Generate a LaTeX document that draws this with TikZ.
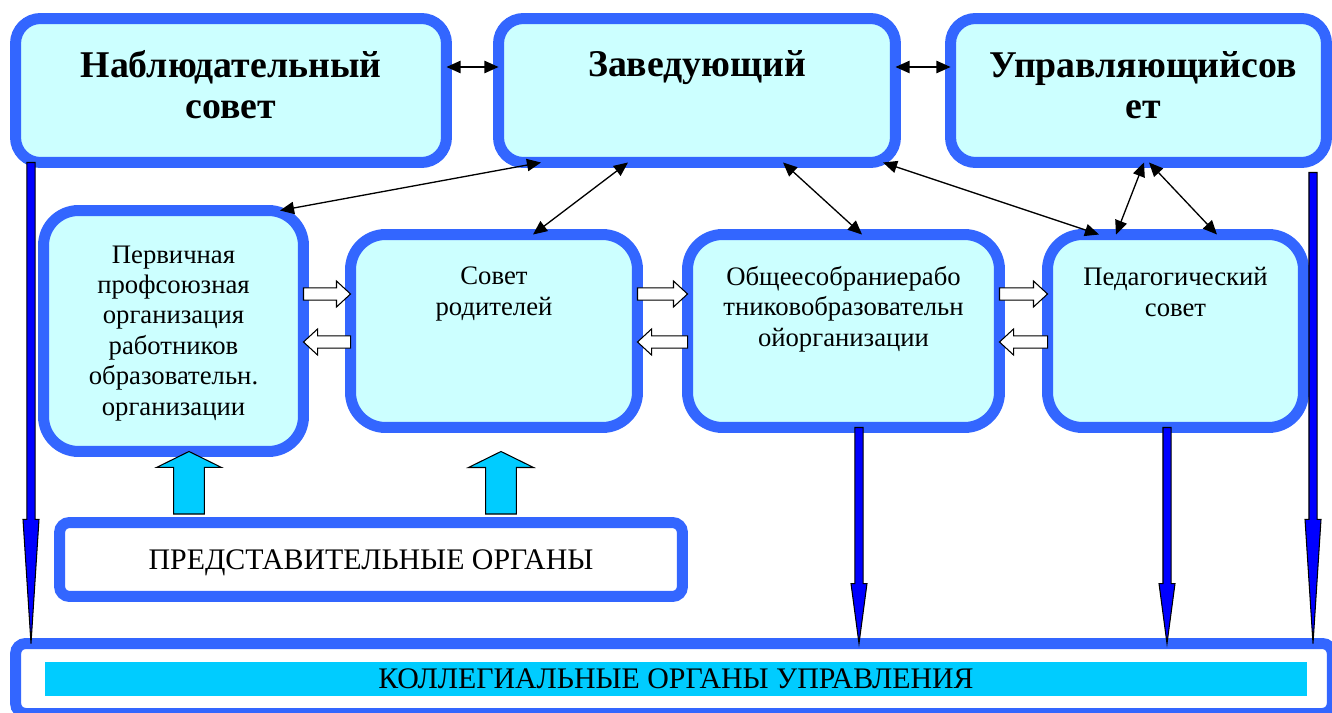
\documentclass[tikz,border=0pt]{standalone}
\usepackage{fontspec}
\setmainfont{Liberation Serif}
\usetikzlibrary{arrows.meta,calc}
\definecolor{boxblue}{RGB}{51,102,255}
\definecolor{boxfill}{RGB}{204,255,255}
\definecolor{barcyan}{RGB}{0,204,255}
\definecolor{arrowblue}{RGB}{0,0,255}
\tikzset{
  orgbox/.style={draw=boxblue, fill=boxfill, line width=6.26pt, rounded corners=0.7cm, outer sep=0pt, inner sep=0pt},
  topbox/.style={orgbox, rounded corners=0.5cm, minimum height=2.88cm},
  midbox/.style={orgbox, minimum height=3.86cm},
  framebox/.style={draw=boxblue, fill=white, line width=6.26pt, rounded corners=0.2cm, outer sep=0pt, inner sep=0pt},
  toptext/.style={font=\fontsize{21.5}{23.3}\selectfont\bfseries, align=center, anchor=base, inner sep=0pt},
  midtext/.style={font=\fontsize{15.2}{17.3}\selectfont, align=center, anchor=base, inner sep=0pt},
  captext/.style={font=\fontsize{17}{20}\selectfont, text height=11.2pt, text depth=0pt},
  link/.style={<->, >={Triangle[length=8pt,width=7pt]}, line width=0.75pt},
  vblock/.style n args={3}{to path={let \p1=(\tikztostart), \p2=(\tikztotarget), \n1={sign(\y2-\y1)} in
    ({\x2-#1},\y1) -- ({\x2-#1},{\y2-(\n1)*#3}) -- ({\x2-#2},{\y2-(\n1)*#3}) -- (\x2,\y2)
    -- ({\x2+#2},{\y2-(\n1)*#3}) -- ({\x2+#1},{\y2-(\n1)*#3}) -- ({\x2+#1},\y1) -- cycle}},
  bluedown/.style={vblock={2.3pt}{4.55pt}{#1}, draw=black, fill=arrowblue, line width=0.6pt},
  cyanup/.style={vblock={8.8pt}{18.5pt}{9.1pt}, draw=black, fill=barcyan, line width=0.6pt},
  whitearrow/.style={draw=black, fill=white, line width=0.6pt,
    to path={let \p1=(\tikztostart), \p2=(\tikztotarget), \n1={sign(\x2-\x1)} in
    (\x1,{\y1-3.5pt}) -- ({\x2-(\n1)*8pt},{\y1-3.5pt}) -- ({\x2-(\n1)*8pt},{\y1-7.4pt}) -- (\x2,\y1)
    -- ({\x2-(\n1)*8pt},{\y1+7.4pt}) -- ({\x2-(\n1)*8pt},{\y1+3.5pt}) -- (\x1,{\y1+3.5pt}) -- cycle}}
}
\begin{document}
\begin{tikzpicture}[x=0.02cm,y=-0.02cm]
      \useasboundingbox (0,0) rectangle (1332,713);
      % top row
      \node (nab) at (231,90.5) [topbox, minimum width=8.62cm] {};
      \node (zav) at (697,90.5) [topbox, minimum width=7.94cm] {};
      \node (upr) at (1138.5,90.5) [topbox, minimum width=7.52cm] {};
      \node (nabtext) at (231,118) [toptext] {Наблюдательный\\совет};
      \node (zavtext) at (697,77) [toptext] {Заведующий};
      \node (uprtext) at (1143,118) [toptext] {Управляющийсов\\ет};
      % middle row
      \node (perv) at (173.5,331) [orgbox, minimum width=5.2cm, minimum height=4.82cm] {};
      \node (sovet) at (494,331) [midbox, minimum width=5.74cm] {};
      \node (obshee) at (843.5,331) [midbox, minimum width=6.24cm] {};
      \node (ped) at (1175.5,331) [midbox, minimum width=5.12cm] {};
      \node (pervtext) at (173.5,415) [midtext] {Первичная\\профсоюзная\\организация\\работников\\образовательн.\\организации};
      \node (sovettext) at (494,315) [midtext] {Совет\\родителей};
      \node (obsheetext) at (843.5,346) [midtext] {Общеесобраниерабо\\тниковобразовательн\\ойорганизации};
      \node (pedtext) at (1175.5,316) [midtext] {Педагогический\\совет};
      % bottom
      \node (pred) at (371,559.5) [framebox, captext, minimum width=12.46cm, minimum height=1.48cm] {ПРЕДСТАВИТЕЛЬНЫЕ ОРГАНЫ};
      \node (koll) at (674,678.5) [framebox, minimum width=26.34cm, minimum height=1.4cm] {};
      \node (bar) at (676,679) [fill=barcyan, captext, inner sep=0pt, minimum width=25.24cm, minimum height=0.68cm] {КОЛЛЕГИАЛЬНЫЕ ОРГАНЫ УПРАВЛЕНИЯ};
      % links
      \draw [link] (nab.east |- 0,67) -- (zav.west |- 0,67);
      \draw [link] (zav.east |- 0,67) -- (upr.west |- 0,67);
      \draw [link] (zav.south -| 541,0) -- (perv.north -| 280,0);
      \draw [link] (zav.south -| 628,0) -- (sovet.north -| 533,0);
      \draw [link] (zav.south -| 783,0) -- (obshee.north -| 862,0);
      \draw [link] (zav.south -| 883,0) -- (ped.north -| 1099,0);
      \draw [link] (upr.south -| 1144,0) -- (ped.north -| 1116,0);
      \draw [link] (upr.south -| 1149,0) -- (ped.north -| 1217,0);
      \draw [whitearrow] (perv.east |- 0,294) to (sovet.west |- 0,294);
      \draw [whitearrow] (sovet.west |- 0,342) to (perv.east |- 0,342);
      \draw [whitearrow] (sovet.east |- 0,294) to (obshee.west |- 0,294);
      \draw [whitearrow] (obshee.west |- 0,342) to (sovet.east |- 0,342);
      \draw [whitearrow] (obshee.east |- 0,294) to (ped.west |- 0,294);
      \draw [whitearrow] (ped.west |- 0,342) to (obshee.east |- 0,342);
      \draw [cyanup] (pred.north -| 189,0) ++(0,-8.5) to (perv.south -| 189,0);
      \draw [cyanup] (pred.north -| 501,0) ++(0,-8.5) to ($(sovet.south -| 501,0)+(0,24)$);
      \draw [bluedown=70.6pt] (nab.south -| 31,0) to (koll.north -| 31,0);
      \draw [bluedown=70.6pt] (upr.south -| 1313,0) ++(0,10) to (koll.north -| 1313,0);
      \draw [bluedown=34.1pt] (obshee.south -| 859,0) to (koll.north -| 859,0);
      \draw [bluedown=34.1pt] (ped.south -| 1167,0) to (koll.north -| 1167,0);
    \end{tikzpicture}
\end{document}
